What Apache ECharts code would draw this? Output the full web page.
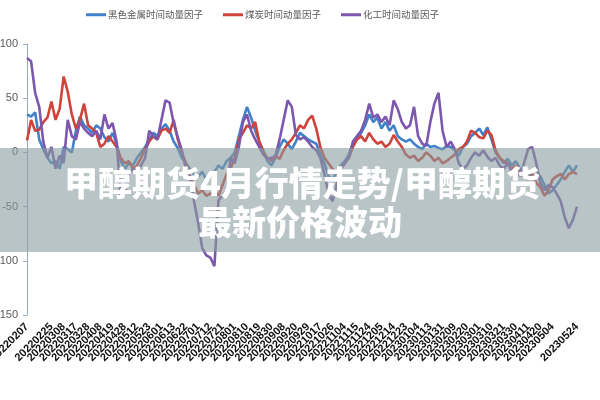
<!DOCTYPE html>
<html>
<head>
<meta charset="utf-8">
<script src="https://cdn.jsdelivr.net/npm/echarts@6/dist/echarts.min.js"></script>
<style>html,body{margin:0;padding:0;background:#fff;}#c{width:600px;height:400px;}</style>
</head>
<body>
<div id="c"></div>
<script>
// Axis tick labels (one every few sampled points)
const labelDates = ['20220207','20220216','20220225','20220308','20220317','20220328','20220408','20220419','20220428','20220512','20220523','20220601','20220613','20220622','20220701','20220712','20220721','20220801','20220810','20220819','20220830','20220908','20220920','20220929','20221017','20221026','20221104','20221115','20221124','20221205','20221214','20221223','20230104','20230113','20230131','20230209','20230220','20230301','20230310','20230321','20230330','20230411','20230420','20230504','20230515','20230524'];
const seriesNames = ['黑色金属时间动量因子','煤炭时间动量因子','化工时间动量因子'];
const yTicks = [-150, -100, -50, 0, 50, 100];
const blackMetal = [35,33,37,12,3,-5,-10,-8,-15,5,3,0,20,33,25,22,18,25,22,14,10,18,8,-8,-15,-10,-12,-5,0,5,12,18,15,22,26,20,10,4,-5,-10,-15,-20,-22,-18,-25,-20,-18,-12,-15,-8,-5,0,15,30,42,32,20,10,2,-8,-12,-5,5,12,8,3,10,18,15,12,10,8,-2,-10,-22,-25,-18,-12,-8,-2,8,12,18,25,35,28,32,22,28,20,25,15,12,10,12,8,5,3,8,5,6,4,3,6,5,2,-3,5,8,15,18,22,16,23,12,0,-5,-10,-6,-12,-8,-15,-20,-18,-25,-20,-22,-30,-38,-35,-30,-25,-18,-12,-18,-12];
const coal = [11,30,20,21,28,32,47,30,40,70,56,35,22,30,45,25,22,18,5,8,15,10,5,-5,-10,-8,-15,-12,-5,3,10,15,12,20,22,18,30,12,0,-10,-22,-30,-38,-35,-40,-38,-36,-40,-30,-20,-15,-5,12,18,25,22,28,10,0,-5,-8,-3,-6,2,8,12,18,25,22,30,34,22,5,-5,-10,-15,-20,-15,-10,-5,5,12,15,10,18,12,8,10,5,8,16,10,5,-2,-5,-3,-8,-5,0,-3,-8,-5,-10,-8,-5,-2,3,5,10,20,18,14,13,20,16,2,-5,-8,-10,-15,-12,-18,-22,-25,-20,-28,-32,-40,-35,-25,-22,-20,-25,-20,-18,-20];
const chemical = [87,84,55,42,10,-5,5,-15,-3,-10,30,15,12,28,22,18,15,20,12,35,22,27,10,-40,-38,-20,-15,-18,-12,-5,20,15,12,30,48,46,27,14,2,-15,-25,-45,-65,-88,-95,-97,-105,-44,-40,-35,-5,-10,5,28,35,20,12,5,-2,-6,-5,-3,12,30,48,42,16,12,14,10,5,2,-5,-20,-38,-45,-30,-15,-10,-5,10,15,20,30,45,32,35,28,33,25,48,40,28,22,25,42,15,8,6,28,45,55,20,5,10,3,-10,-15,-12,-5,0,-3,2,-4,-8,-5,-12,-15,-10,-18,-15,-22,-10,3,5,-10,-28,-35,-30,-32,-38,-45,-60,-70,-62,-50];
const titleLines = ['甲醇期货4月行情走势/甲醇期货', '最新价格波动'];

// build the category list: each labelled date followed by two unlabeled sample slots
const categories = [];
labelDates.forEach((d, j) => {
  categories.push(d);
  if (j < labelDates.length - 1) { categories.push(d + '_a'); categories.push(d + '_b'); }
});

const colors = ['#4181c9', '#cf433b', '#7c57ad'];
const chart = echarts.init(document.getElementById('c'), null, {renderer: 'canvas'});
chart.setOption({
  animation: false,
  color: colors,
  legend: {
    top: 10, left: 86, padding: 0, itemWidth: 20, itemHeight: 3, itemGap: 20, icon: 'rect',
    textStyle: {fontSize: 9.5, color: '#595959', fontFamily: 'Noto Sans CJK SC', padding: [0,0,0,-3]},
    data: seriesNames
  },
  grid: {left: 27, right: 23, top: 44, bottom: 85, outerBoundsMode: 'none', containLabel: false},
  xAxis: {
    type: 'category', data: categories, boundaryGap: false,
    axisLine: {show: false, onZero: false}, axisTick: {show: false},
    axisLabel: {interval: 2, rotate: 45, fontSize: 11, color: '#111', margin: 10, fontFamily: 'Liberation Sans', fontWeight: 'bold', showMinLabel: true, showMaxLabel: true, hideOverlap: false}
  },
  yAxis: {
    type: 'value', min: yTicks[0], max: yTicks[yTicks.length-1], interval: 50,
    splitLine: {show: false},
    axisLine: {show: true, lineStyle: {color: '#93aacb', width: 1}},
    axisTick: {show: true, length: 4, lineStyle: {color: '#93aacb'}},
    axisLabel: {fontSize: 11, color: '#595959', margin: 9, fontFamily: 'Liberation Sans'}
  },
  series: [
    {name: seriesNames[0], type: 'line', data: blackMetal, symbol: 'none', lineStyle: {width: 2.6}},
    {name: seriesNames[1], type: 'line', data: coal, symbol: 'none', lineStyle: {width: 2.6}},
    {name: seriesNames[2], type: 'line', data: chemical, symbol: 'none', lineStyle: {width: 2.6}}
  ],
  graphic: [
    {type: 'rect', left: 0, top: 148, z: 100, shape: {width: 600, height: 104}, style: {fill: 'rgba(137,157,158,0.6)'}},
    {type: 'text', x: 302, y: 183, z: 101, style: {text: titleLines[0], fill: '#fff', font: '900 34px "Noto Sans CJK SC"', textAlign: 'center', textVerticalAlign: 'middle', shadowBlur: 3, shadowColor: 'rgba(0,0,0,0.15)'}},
    {type: 'text', x: 300, y: 222, z: 101, style: {text: titleLines[1], fill: '#fff', font: '900 34px "Noto Sans CJK SC"', textAlign: 'center', textVerticalAlign: 'middle', shadowBlur: 3, shadowColor: 'rgba(0,0,0,0.15)'}}
  ]
});
</script>
</body>
</html>
